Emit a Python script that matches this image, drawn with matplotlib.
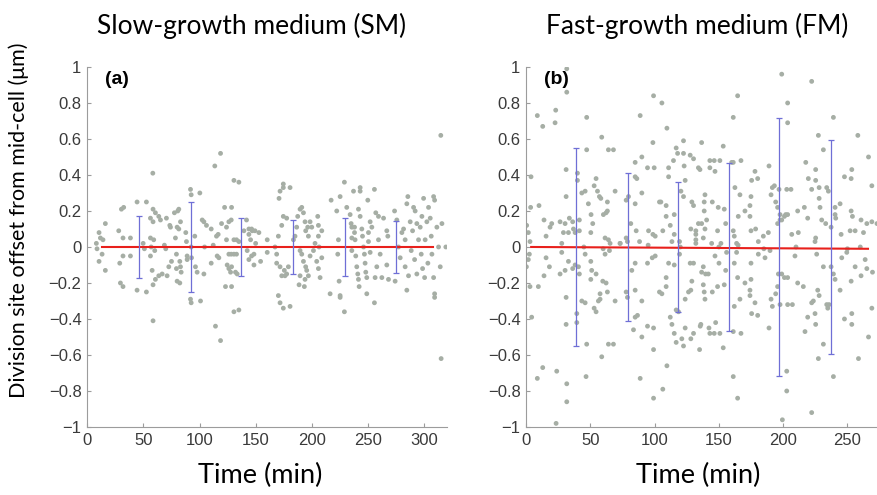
import numpy as np
import matplotlib.pyplot as plt

# (time in min, division-site offset in um) for each cell, slow-growth medium
sm_cells = [
    (8.3, 0.02), (8.9, -0.01), (10.7, 0.08), (11.9, 0.05), (14.2, 0.04), (13.4, -0.04), (10.7, -0.08),
    (16.3, 0.13), (16.3, -0.13), (28.2, 0.09), (29.1, -0.09), (30.6, 0.21), (32.6, 0.22), (32.0, 0.05),
    (32.0, -0.05), (29.7, -0.20), (32.0, -0.22), (38.6, 0.05), (38.6, -0.05), (44.5, 0.25), (44.5, -0.24),
    (52.8, 0.25), (52.8, -0.25), (49.9, 0.02), (51.0, -0.01), (56.4, 0.16), (56.4, 0.05), (57.0, 0.0),
    (56.4, -0.05), (58.5, 0.41), (58.7, 0.21), (60.8, 0.19), (58.7, 0.14), (59.3, 0.04), (60.2, -0.02),
    (57.9, -0.13), (60.8, -0.18), (58.7, -0.21), (58.7, -0.41), (63.8, 0.17), (65.3, 0.15), (63.8, -0.16),
    (66.8, -0.15), (68.8, 0.01), (70.0, -0.01), (70.6, 0.16), (71.2, -0.16), (72.7, -0.11), (73.6, 0.12),
    (74.2, 0.11), (75.1, -0.08), (77.7, 0.19), (78.6, 0.05), (79.5, -0.04), (79.5, -0.12), (80.1, 0.11),
    (80.7, 0.20), (81.6, 0.21), (81.6, 0.10), (80.1, -0.19), (82.5, -0.20), (82.5, -0.08), (83.1, -0.11),
    (83.7, -0.14), (83.1, 0.14), (87.8, 0.08), (88.4, 0.03), (89.0, -0.05), (89.0, -0.07), (92.0, 0.32),
    (92.6, 0.29), (92.6, 0.0), (92.9, -0.06), (92.0, -0.29), (92.6, -0.31), (95.8, 0.06), (96.4, -0.11),
    (97.9, -0.14), (100.3, 0.30), (100.9, -0.30), (102.4, 0.15), (103.9, 0.14), (104.5, 0.0), (103.9, -0.15),
    (106.2, 0.12), (110.4, 0.10), (110.4, -0.09), (112.2, 0.01), (113.6, 0.45), (114.2, -0.44), (115.1, 0.06),
    (115.7, -0.05), (116.6, 0.07), (117.2, -0.06), (118.7, 0.52), (118.7, -0.52), (119.6, 0.13), (122.3, 0.22),
    (123.1, -0.22), (124.0, 0.11), (126.1, 0.14), (128.5, 0.22), (128.5, -0.22), (128.2, 0.15), (128.5, -0.11),
    (130.6, 0.37), (130.6, -0.36), (135.0, 0.36), (135.0, -0.35), (130.6, 0.04), (132.9, 0.04), (135.0, 0.03),
    (124.0, 0.04), (126.1, -0.04), (128.2, -0.04), (130.6, -0.04), (132.9, -0.04), (124.6, -0.10),
    (126.1, -0.12), (127.6, -0.14), (132.0, -0.14), (133.5, -0.15), (139.5, 0.09), (141.8, 0.15),
    (143.9, 0.10), (143.9, 0.07), (145.4, 0.04), (146.3, 0.10), (146.9, 0.09), (142.4, -0.02), (143.9, -0.07),
    (146.3, -0.05), (148.4, -0.04), (148.4, -0.10), (152.8, 0.08), (154.3, -0.08), (160.2, 0.04),
    (160.2, -0.03), (149.3, 0.09), (149.9, 0.02),
    (167.1, 0.0), (168.6, -0.09), (171.6, 0.31), (174.5, 0.35), (174.5, 0.33), (180.5, 0.33), (170.7, 0.27),
    (170.1, -0.27), (171.6, -0.31), (174.5, -0.34), (180.5, -0.33), (174.5, 0.17), (177.5, 0.16),
    (173.1, 0.12), (170.1, 0.06), (171.6, -0.11), (173.1, -0.16), (176.0, -0.16), (175.4, -0.13),
    (177.5, -0.15), (179.0, -0.11), (168.6, -0.04), (183.5, 0.04), (184.9, 0.06), (186.4, 0.11),
    (187.3, 0.17), (189.4, 0.21), (190.9, 0.22), (192.4, 0.19), (193.8, 0.14), (194.4, 0.09), (196.2, 0.11),
    (196.8, 0.06), (189.4, -0.02), (190.9, -0.04), (192.4, -0.08), (194.4, -0.11), (195.3, -0.13),
    (189.4, -0.16), (196.8, -0.16), (193.8, -0.18), (188.5, -0.21), (193.2, -0.22), (198.3, 0.14),
    (199.8, 0.11), (201.3, -0.02), (205.1, 0.17), (205.7, 0.12), (205.7, 0.06), (204.2, -0.08),
    (205.7, -0.12), (206.3, 0.0), (198.3, -0.05), (202.7, 0.02), (208.7, 0.09), (208.7, -0.06),
    (207.2, -0.17), (217.0, 0.26), (216.1, -0.26), (225.0, 0.28), (222.0, 0.20), (223.5, 0.04),
    (222.9, -0.04), (224.1, -0.19), (225.0, -0.27), (225.0, -0.28), (228.8, 0.36), (228.8, -0.36),
    (230.9, 0.22), (233.9, 0.18), (234.8, 0.13), (235.4, 0.11), (235.4, 0.05), (235.4, -0.02), (236.9, 0.31),
    (237.8, 0.11), (237.8, 0.08), (238.3, 0.04), (238.9, -0.05), (239.8, -0.11), (240.7, -0.15),
    (241.3, -0.18), (241.9, -0.22), (242.8, 0.33), (242.8, 0.31), (241.3, 0.21), (242.8, 0.17), (244.3, 0.10),
    (244.9, 0.06), (245.8, 0.0), (246.6, -0.04), (247.2, -0.09), (247.8, -0.14), (248.7, -0.17),
    (250.2, 0.08), (250.2, 0.03), (248.7, -0.26), (249.6, 0.26), (251.7, 0.14), (251.7, -0.03),
    (253.2, 0.11), (255.5, 0.32), (255.5, -0.31), (256.1, -0.17), (256.7, 0.19), (257.6, -0.11),
    (259.1, 0.17), (259.1, 0.04), (260.6, -0.04), (262.1, -0.17), (263.6, 0.16), (266.5, 0.09),
    (267.4, 0.06), (266.5, -0.10), (268.0, -0.18), (273.4, 0.20), (273.9, -0.19), (275.4, 0.15),
    (276.9, 0.0), (278.4, -0.06), (279.9, 0.08), (281.4, 0.10), (282.8, 0.04), (282.8, -0.11), (284.3, 0.24),
    (284.3, -0.24), (285.2, 0.28), (285.8, -0.16), (287.3, 0.14), (288.2, -0.02), (289.4, 0.09),
    (290.3, 0.22), (291.2, -0.07), (291.7, 0.20), (293.2, 0.13), (293.2, -0.15), (294.7, 0.04),
    (296.2, 0.11), (297.1, -0.04), (297.7, 0.17), (298.3, -0.12), (299.2, 0.27), (300.1, -0.17),
    (300.6, 0.04), (302.1, 0.14), (303.0, -0.09), (303.6, 0.22), (305.1, 0.16), (306.0, 0.06),
    (306.6, -0.04), (308.1, 0.28), (308.1, -0.17), (309.0, 0.26), (309.0, -0.26), (309.0, -0.28),
    (311.0, 0.11), (312.5, 0.0), (314.0, -0.11), (315.5, 0.13), (319.0, 0.0), (314.5, 0.62), (314.8, -0.62),
]

# same for fast-growth medium
fm_cells = [
    (31.7, 0.99), (31.7, 0.86), (8.8, 0.73), (13.0, 0.67), (23.1, 0.76), (22.6, 0.69), (47.2, 0.72),
    (3.9, 0.39), (3.6, 0.22), (10.1, 0.23), (0.5, 0.12), (1.8, 0.08), (3.1, 0.03), (14.0, 0.15), (15.6, 0.06),
    (18.7, 0.11), (20.0, 0.13), (26.5, 0.14), (30.4, 0.13), (31.2, 0.28), (31.2, 0.43), (29.1, 0.08),
    (33.7, 0.16), (33.0, 0.08), (36.3, 0.14), (36.9, 0.10), (38.2, 0.08), (40.0, 0.41), (40.0, 0.37),
    (41.5, 0.15), (41.5, 0.09), (43.4, 0.30), (46.0, 0.31), (47.2, 0.54), (48.5, 0.24), (50.6, 0.18),
    (51.9, 0.13), (50.4, 0.08), (53.0, 0.34), (54.5, 0.38), (55.6, 0.31), (57.1, 0.28), (58.9, 0.61),
    (58.2, 0.27), (60.2, 0.18), (62.3, 0.19), (63.3, 0.25), (64.1, 0.54), (68.0, 0.54), (69.3, 0.31),
    (63.3, 0.20), (61.5, 0.05), (64.1, 0.04), (65.4, 0.02), (73.2, 0.02), (77.9, 0.05), (78.9, 0.03),
    (79.7, 0.28), (77.9, 0.26), (81.5, 0.13), (84.9, 0.47), (84.9, 0.39), (86.2, 0.38), (84.9, 0.24),
    (85.7, 0.09), (88.3, 0.03), (88.8, 0.73), (90.1, 0.50), (90.1, 0.30), (94.5, 0.44), (95.3, 0.09),
    (98.7, 0.58), (99.2, 0.84), (99.7, 0.44), (98.7, 0.07), (100.5, 0.06), (103.8, 0.25), (104.9, 0.25),
    (105.7, 0.80), (109.6, 0.66), (109.0, 0.23), (109.0, 0.17), (110.9, 0.44), (110.9, 0.39), (112.2, 0.12),
    (106.4, 0.09), (114.7, 0.48), (115.3, 0.18), (115.3, 0.07), (116.8, 0.55), (117.9, 0.52), (113.5, 0.03),
    (119.4, 0.03), (122.5, 0.52), (122.5, 0.59), (123.0, 0.45), (120.5, 0.31), (122.5, 0.28), (123.8, 0.37),
    (127.7, 0.51), (129.0, 0.25), (130.3, 0.49), (130.3, 0.23), (128.2, 0.10), (132.1, 0.09), (132.1, 0.07),
    (132.1, 0.04), (132.1, 0.02), (134.1, 0.44), (134.1, 0.13),
    (136.6, 0.58), (135.3, 0.43), (139.2, 0.29), (138.6, 0.25), (138.6, 0.20), (140.5, 0.15), (139.2, 0.10),
    (137.9, 0.05), (136.6, 0.13), (143.0, 0.48), (143.0, 0.44), (146.4, 0.48), (147.0, 0.42), (150.8, 0.48),
    (153.4, 0.56), (144.9, 0.25), (149.5, 0.22), (154.2, 0.21), (149.0, 0.09), (144.4, 0.02), (151.6, 0.02),
    (155.3, 0.13), (160.0, 0.47), (161.2, 0.47), (167.2, 0.48), (164.6, 0.84), (161.2, 0.72), (162.5, 0.33),
    (165.1, 0.17), (161.2, 0.09), (162.0, 0.06), (163.8, 0.02), (166.4, 0.29), (170.3, 0.20), (174.2, 0.17),
    (174.2, 0.23), (175.0, 0.28), (175.5, 0.37), (178.1, 0.42), (180.2, 0.38), (175.0, 0.09), (178.6, 0.10),
    (180.7, 0.03), (184.6, 0.06), (188.5, 0.08), (189.0, 0.45), (190.6, 0.29), (191.6, 0.33), (193.2, 0.34),
    (194.2, 0.25), (195.7, 0.22), (195.7, 0.13), (196.8, 0.32), (197.6, 0.18), (197.6, 0.15), (198.9, 0.15),
    (201.0, 0.17), (202.0, 0.18), (203.5, 0.18), (198.9, 0.96), (203.5, 0.80), (203.5, 0.69), (202.8, 0.32),
    (206.1, 0.32), (206.7, 0.07), (211.8, 0.08), (211.3, 0.20), (216.5, 0.22), (217.6, 0.47), (219.6, 0.38),
    (219.1, 0.16), (222.2, 0.92), (222.2, 0.32), (225.3, 0.43), (225.3, 0.37), (227.4, 0.62), (231.3, 0.54),
    (228.0, 0.33), (228.0, 0.27), (228.7, 0.22), (230.0, 0.15), (233.1, 0.13), (233.9, 0.33), (235.2, 0.31),
    (239.1, 0.72), (237.3, 0.11), (240.4, 0.22), (240.4, 0.18), (240.9, 0.16), (244.3, 0.24), (245.1, 0.07),
    (247.7, 0.39), (253.4, 0.43), (252.9, 0.38), (252.9, 0.20), (253.9, 0.17), (252.1, 0.09), (256.0, 0.09),
    (258.1, 0.62), (260.6, 0.15), (262.5, 0.08), (266.4, 0.50), (265.1, 0.13), (269.0, 0.34), (269.0, 0.14),
    (273.0, 0.13), (225.3, 0.05), (224.8, 0.03),
    (2.6, -0.04), (1.8, -0.07), (0.3, -0.11), (3.1, -0.22), (9.6, -0.22), (4.4, -0.39), (15.6, -0.06),
    (18.2, -0.11), (14.0, -0.16), (13.0, -0.67), (8.8, -0.73), (23.9, -0.69), (23.4, -0.98), (27.8, 0.02),
    (27.8, -0.03), (26.5, -0.15), (30.4, -0.13), (33.0, -0.08), (31.2, -0.28), (31.2, -0.43), (31.7, -0.76),
    (31.7, -0.86), (36.3, -0.12), (38.2, -0.10), (40.8, -0.11), (39.5, -0.37), (39.5, -0.42), (41.5, -0.15),
    (43.4, -0.30), (46.0, -0.31), (47.2, -0.54), (46.7, -0.72), (46.0, -0.04), (50.4, -0.08), (51.1, -0.13),
    (50.4, -0.18), (54.5, -0.15), (53.0, -0.34), (54.5, -0.36), (56.3, -0.30), (57.6, -0.26), (59.7, -0.19),
    (62.3, -0.20), (63.3, -0.25), (57.6, -0.29), (58.9, -0.61), (64.1, -0.54), (68.0, -0.54), (69.3, -0.30),
    (61.5, -0.04), (64.9, -0.02), (73.2, 0.02), (77.9, -0.25), (78.9, -0.28), (84.9, -0.39), (86.7, -0.38),
    (84.9, -0.24), (83.6, -0.46), (90.1, -0.50), (90.1, -0.30), (84.9, -0.09), (82.3, -0.13), (88.8, -0.73),
    (94.5, -0.44), (94.5, -0.09), (99.2, -0.45), (99.2, -0.57), (98.2, -0.06), (100.5, -0.05), (103.8, -0.25),
    (105.7, -0.26), (106.4, -0.79), (99.2, -0.84), (109.6, -0.66), (109.0, -0.22), (109.0, -0.17),
    (110.9, -0.09), (112.2, -0.39), (113.5, -0.43), (115.3, -0.48), (115.3, -0.10), (116.8, -0.53),
    (116.8, -0.35), (118.6, -0.36), (119.4, -0.04), (121.2, -0.51), (123.8, -0.45), (122.5, -0.55),
    (123.8, -0.29), (126.4, -0.25), (128.2, -0.24), (129.0, -0.19), (127.7, -0.09), (128.2, -0.51),
    (130.3, -0.48), (130.3, -0.09), (135.5, -0.44), (135.0, -0.57),
    (137.9, -0.11), (136.6, -0.14), (139.7, -0.15), (137.9, -0.21), (138.6, -0.25), (139.2, -0.29),
    (144.9, -0.25), (149.0, -0.22), (154.2, -0.21), (150.1, -0.09), (155.3, -0.13), (136.0, -0.43),
    (142.3, -0.45), (143.0, -0.48), (146.4, -0.48), (147.5, -0.42), (150.8, -0.48), (153.4, -0.56),
    (161.2, -0.47), (167.2, -0.48), (161.2, -0.72), (164.6, -0.84), (162.0, -0.33), (166.4, -0.29),
    (164.6, -0.17), (162.0, -0.09), (170.3, -0.20), (174.2, -0.24), (174.2, -0.27), (175.0, -0.18),
    (175.5, -0.37), (178.1, -0.31), (180.2, -0.38), (175.0, -0.09), (180.7, -0.04), (189.0, -0.45),
    (190.6, -0.29), (191.6, -0.33), (194.2, -0.26), (195.7, -0.22), (196.3, -0.15), (197.6, -0.32),
    (198.9, -0.15), (201.0, -0.17), (203.5, -0.17), (199.4, -0.96), (202.8, -0.69), (202.8, -0.80),
    (203.5, -0.32), (207.2, -0.32), (211.3, -0.20), (215.7, -0.22), (217.0, -0.47), (219.1, -0.39),
    (222.2, -0.31), (222.2, -0.92), (223.5, -0.30), (224.8, -0.37), (225.3, -0.43), (226.9, -0.24),
    (228.0, -0.27), (227.4, -0.62), (231.3, -0.54), (231.3, -0.11), (233.9, -0.32), (234.7, -0.34),
    (235.7, -0.32), (239.1, -0.72), (237.3, -0.11), (239.1, -0.15), (240.4, -0.18), (244.3, -0.24),
    (247.7, -0.40), (253.4, -0.37), (253.4, -0.43), (252.9, -0.19), (256.0, -0.11), (258.6, -0.62),
    (260.6, -0.16), (265.1, -0.12), (266.4, -0.50), (269.0, -0.34), (269.5, -0.14), (141.8, -0.15),
    (147.0, -0.05), (156.0, -0.03), (163.8, -0.03), (185.9, -0.06), (189.8, -0.02), (209.2, -0.05),
    (226.1, -0.04), (245.6, -0.06), (249.5, -0.03), (263.8, -0.07),
    (45.0, 0.0), (60.0, -0.01), (95.0, 0.01), (120.0, 0.0), (150.0, 0.0), (165.0, 0.01), (185.0, -0.01),
    (210.0, 0.0), (250.0, -0.01), (260.0, 0.0),
]

# binned standard deviations (bars centred on zero mean)
sm_bin_time = [46, 92, 137, 183, 229, 275]
sm_bin_sd = [0.17, 0.25, 0.16, 0.15, 0.16, 0.145]
fm_bin_time = [39, 79, 118, 158, 197, 237]
fm_bin_sd = [0.55, 0.41, 0.36, 0.465, 0.715, 0.595]

# linear fits
sm_fit_time = [13, 308]
sm_fit_offset = [0.0, 0.0]
fm_fit_time = [4, 266]
fm_fit_offset = [0.0, -0.01]

yticks = np.arange(-1, 1.01, 0.2)
ytick_labels = ['\u22121', '\u22120.8', '\u22120.6', '\u22120.4', '\u22120.2', '0',
                '0.2', '0.4', '0.6', '0.8', '1']

dot_col = '#a6aea5'
bar_col = '#6f6fd6'
line_col = '#e8201c'
axis_col = '#9c9c9c'
txt_col = '#3a3a3a'

fig = plt.figure(figsize=(8.78, 4.95), dpi=100)
ax1 = fig.add_axes([0.0991, 0.1374, 0.41, 0.7273])
ax2 = fig.add_axes([0.5991, 0.1374, 0.41, 0.7273])

panels = [
    (ax1, sm_cells, sm_bin_time, sm_bin_sd, sm_fit_time, sm_fit_offset, 320, np.arange(0, 301, 50), '(a)'),
    (ax2, fm_cells, fm_bin_time, fm_bin_sd, fm_fit_time, fm_fit_offset, 280, np.arange(0, 251, 50), '(b)'),
]

for ax, cells, bt, bsd, ft, fo, xmax, xt, tag in panels:
    t, v = np.array(cells).T
    ax.scatter(t, v, s=12, color=dot_col, edgecolors='none', zorder=2)
    ax.plot(ft, fo, color=line_col, lw=1.5, zorder=3)
    ax.errorbar(bt, np.zeros(len(bt)), yerr=bsd, fmt='none', ecolor=bar_col,
                elinewidth=0.9, capsize=2.5, capthick=0.9, zorder=4)
    ax.set_xlim(0, xmax)
    ax.set_ylim(-1, 1)
    ax.set_xticks(xt)
    ax.set_yticks(yticks)
    ax.set_yticklabels(ytick_labels)
    for s in ['top', 'right']:
        ax.spines[s].set_visible(False)
    for s in ['left', 'bottom']:
        ax.spines[s].set_color(axis_col)
        ax.spines[s].set_linewidth(0.8)
    ax.tick_params(direction='in', length=3, width=0.8, color=axis_col, labelcolor=txt_col,
                   labelsize=12, pad=4)
    for lab in ax.get_xticklabels() + ax.get_yticklabels():
        lab.set_family('Liberation Sans')
    ax.text(0.05, 0.99, tag, transform=ax.transAxes, ha='left', va='top',
            fontsize=14, fontweight='bold', family='Liberation Sans', color='black')

fig.text(0.287, 0.947, 'Slow-growth medium (SM)', ha='center', va='center',
         fontsize=19, family='Lato', color='black')
fig.text(0.794, 0.947, 'Fast-growth medium (FM)', ha='center', va='center',
         fontsize=19, family='Lato', color='black')
fig.text(0.296, 0.04, 'Time (min)', ha='center', va='center', fontsize=19.5, family='Lato')
fig.text(0.795, 0.04, 'Time (min)', ha='center', va='center', fontsize=19.5, family='Lato')
fig.text(0.021, 0.555, 'Division site offset from mid-cell (\u03bcm)', rotation=90,
         ha='center', va='center', fontsize=15.5, family='Lato')

fig.savefig('out.png', dpi=100)
